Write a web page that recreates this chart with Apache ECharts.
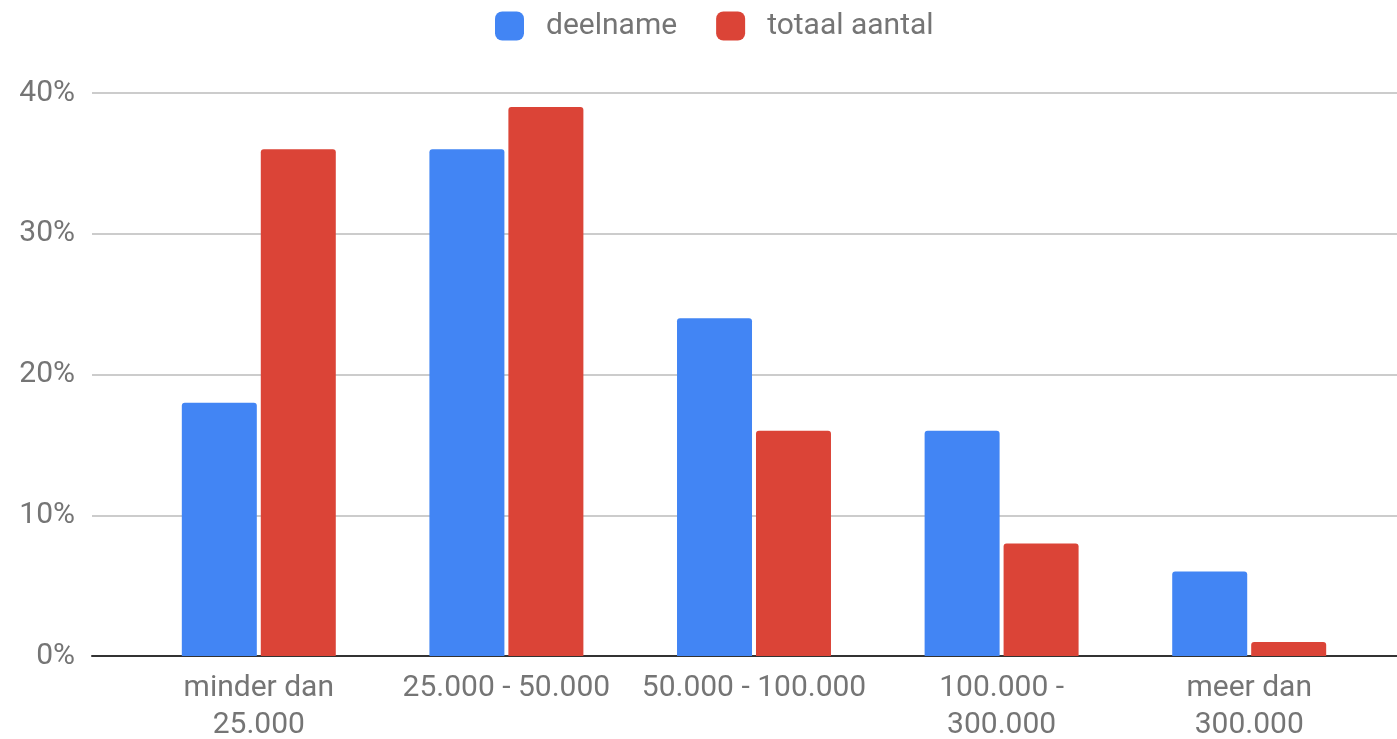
<!DOCTYPE html>
<html>
<head>
<meta charset="utf-8">
<script src="https://cdn.jsdelivr.net/npm/echarts@6/dist/echarts.min.js"></script>
<style>
html,body{margin:0;padding:0;background:#fff;}
#chart{width:1397px;height:739px;}
</style>
</head>
<body>
<div id="chart"></div>
<script>
const categories = ["minder dan\n25.000", "25.000 - 50.000", "50.000 - 100.000", "100.000 -\n300.000", "meer dan\n300.000"];
const seriesNames = ["deelname", "totaal aantal"];
const deelname = [18, 36, 24, 16, 6];
const totaalAantal = [36, 39, 16, 8, 1];
const yTicks = [0, 10, 20, 30, 40];

const chart = echarts.init(document.getElementById('chart'));
const font = 'Roboto';
const textColor = '#757575';
chart.setOption({
  animation: false,
  backgroundColor: '#fff',
  textStyle: { fontFamily: font },
  legend: {
    top: 11,
    left: 495,
    padding: 0,
    itemWidth: 29,
    itemHeight: 29,
    itemGap: 39,
    icon: 'roundRect',
    data: seriesNames,
    textStyle: { fontFamily: font, fontSize: 30, color: textColor, padding: [2, 0, 0, 17] }
  },
  grid: [
    { left: 92, right: 0, top: 93, bottom: 83, outerBoundsMode: 'none', containLabel: false },
    { left: 135, right: 24, top: 93, bottom: 83, outerBoundsMode: 'none', containLabel: false }
  ],
  xAxis: [
    {
      gridIndex: 0, type: 'value', min: 0, max: 1,
      axisLine: { show: true, onZero: false, lineStyle: { color: '#333', width: 2 } },
      axisTick: { show: false }, axisLabel: { show: false }, splitLine: { show: false }
    },
    {
      gridIndex: 1, type: 'category', data: categories,
      axisLine: { show: false }, axisTick: { show: false },
      axisLabel: { color: textColor, fontFamily: font, fontSize: 30, lineHeight: 37, margin: 14, interval: 0 }
    }
  ],
  yAxis: [
    {
      gridIndex: 0, type: 'value', min: yTicks[0], max: yTicks[yTicks.length - 1], interval: 10,
      axisLine: { show: false }, axisTick: { show: false },
      axisLabel: { color: textColor, fontFamily: font, fontSize: 30, margin: 17, formatter: '{value}%' },
      splitLine: { lineStyle: { color: '#ccc', width: 2 } }
    },
    {
      gridIndex: 1, type: 'value', min: yTicks[0], max: yTicks[yTicks.length - 1], interval: 10,
      show: false, splitLine: { show: false }
    }
  ],
  series: [
    {
      name: seriesNames[0], type: 'bar', xAxisIndex: 1, yAxisIndex: 1,
      data: deelname, barWidth: 75, barGap: '5.3%', z: 1,
      itemStyle: { color: '#4285F4', borderRadius: [3, 3, 0, 0] }
    },
    {
      name: seriesNames[1], type: 'bar', xAxisIndex: 1, yAxisIndex: 1,
      data: totaalAantal, barWidth: 75, barGap: '5.3%', z: 1,
      itemStyle: { color: '#DB4437', borderRadius: [3, 3, 0, 0] }
    }
  ]
});
</script>
</body>
</html>
